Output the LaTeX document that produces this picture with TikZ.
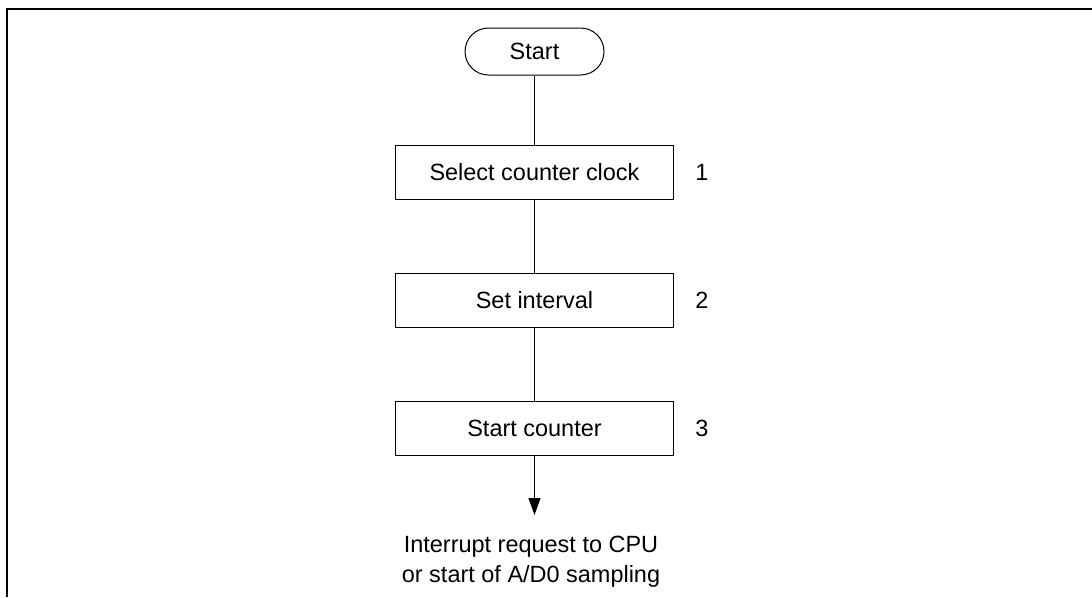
\documentclass[tikz,border=0pt]{standalone}
\usepackage{fontspec}
\setmainfont{Liberation Sans}
\usetikzlibrary{arrows.meta}

\tikzset{
  startbox/.style={draw,line width=0.75pt,rounded corners=17.6pt,minimum width=104.25pt,minimum height=35.25pt,inner sep=0pt},
  stepbox/.style={draw,line width=0.75pt,minimum width=208.5pt,minimum height=40.5pt,inner sep=0pt},
  stepnum/.style={inner sep=0pt},
  flow/.style={line width=0.75pt}
}

\begin{document}
\begin{tikzpicture}[x=0.75pt,y=-0.75pt,font=\fontsize{17.6}{22.5}\selectfont]
\path[use as bounding box] (0,0) rectangle (1092,597);
% frame
\draw[line width=1.5pt] (7,597) -- (7,9) -- (1092,9);
\node[startbox] (start) at (534.5,51.5) {Start};
\node[stepbox] (s1) at (534.5,172) {Select counter clock};
\node[stepnum] (n1) at (702,172) {1};
\node[stepbox] (s2) at (534.5,300) {Set interval};
\node[stepnum] (n2) at (702,300) {2};
\node[stepbox] (s3) at (534.5,428) {Start counter};
\node[stepnum] (n3) at (702,428) {3};
\node[align=center,inner sep=0pt] (irq) at (531,562) {Interrupt request to CPU\\or start of A/D0 sampling};
\coordinate (tip) at (534.5,515);
\draw[flow] (start) -- (s1);
\draw[flow] (s1) -- (s2);
\draw[flow] (s2) -- (s3);
\draw[flow,-{Triangle[length=12.75pt,width=9pt]}] (s3) -- (tip);
\end{tikzpicture}
\end{document}
